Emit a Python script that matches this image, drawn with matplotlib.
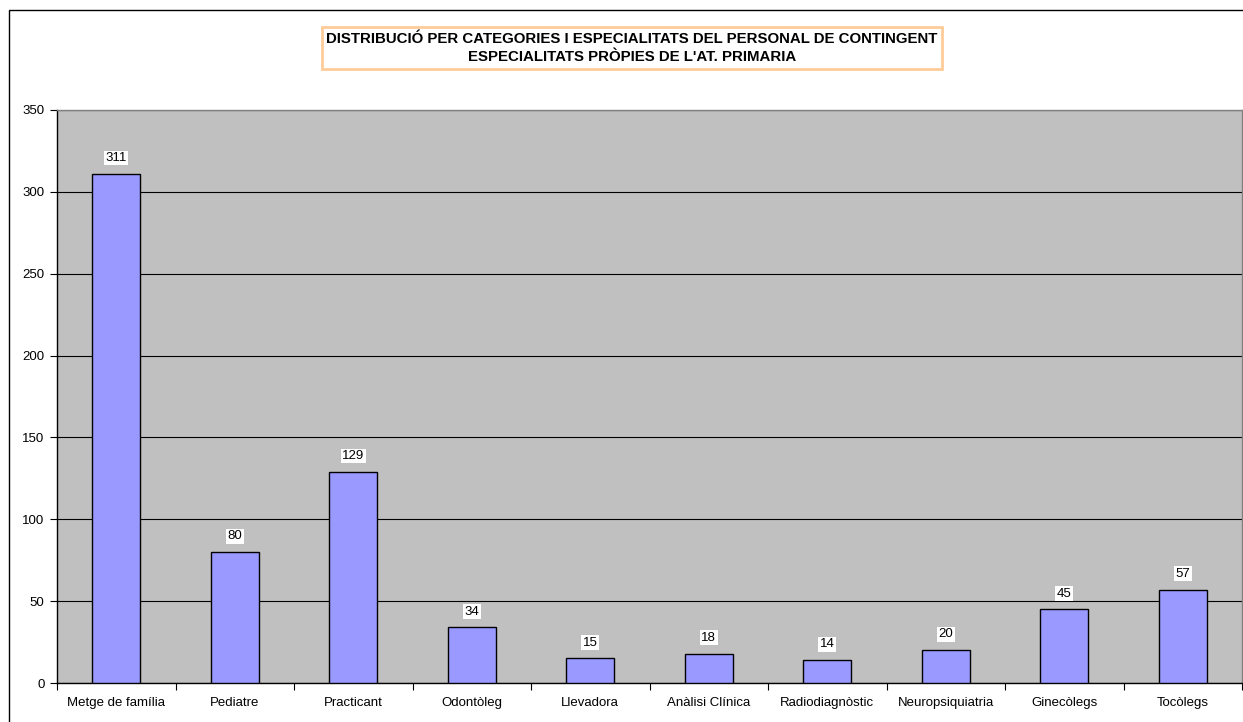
import numpy as np
import matplotlib
matplotlib.use("Agg")
import matplotlib.pyplot as plt
from matplotlib.patches import Rectangle

plt.rcParams["font.family"] = ["Liberation Sans", "DejaVu Sans"]

categories = ["Metge de família", "Pediatre", "Practicant", "Odontòleg", "Llevadora",
              "Anàlisi Clínica", "Radiodiagnòstic", "Neuropsiquiatria", "Ginecòlegs", "Tocòlegs"]
values = [311, 80, 129, 34, 15, 18, 14, 20, 45, 57]
yticks = [0, 50, 100, 150, 200, 250, 300, 350]

W, H = 1243, 722
fig = plt.figure(figsize=(W / 100, H / 100), dpi=100)
ax = fig.add_axes([57 / W, (H - 683) / H, 1185 / W, 573 / H])
ax.set_facecolor("#C0C0C0")

x = np.arange(len(categories))
ax.bar(x, values, width=0.405, color="#9999FF", edgecolor="black", lw=1.0, zorder=3)
for xi, v in zip(x, values):
    ax.text(xi, v + 6, str(v), ha="center", va="bottom", fontsize=9.5, zorder=4,
            bbox=dict(fc="white", ec="none", pad=1.0))

ax.set_xlim(-0.5, len(categories) - 0.5)
ax.set_ylim(0, 350)
ax.set_yticks(yticks)
ax.yaxis.grid(True, color="black", lw=0.8, zorder=1)
ax.tick_params(axis="y", length=5, width=0.8, labelsize=9.5, pad=4)
ax.set_xticks(x)
ax.set_xticklabels(categories, fontsize=9.5)
ax.tick_params(axis="x", length=0, pad=10)
ax.set_xticks(np.arange(len(categories) + 1) - 0.5, minor=True)
ax.tick_params(axis="x", which="minor", length=5, width=0.8)

ax.spines["left"].set_color("black")
ax.spines["bottom"].set_color("black")
ax.spines["top"].set_color("#808080")
ax.spines["right"].set_color("#808080")
for sp in ax.spines.values():
    sp.set_linewidth(1.0)

# title box
fig.text(632 / W, 1 - 48 / H,
         "DISTRIBUCIÓ PER CATEGORIES I ESPECIALITATS DEL PERSONAL DE CONTINGENT\n"
         "ESPECIALITATS PRÒPIES DE L'AT. PRIMARIA",
         ha="center", va="center", fontsize=10.8, fontweight="bold", linespacing=1.4,
         bbox=dict(fc="white", ec="#FFCC99", lw=2.0, boxstyle="square,pad=0.3"))

# outer chart frame
fig.patches.append(Rectangle((9 / W, -0.1), 1.2, 1 - 10 / H + 0.1, transform=fig.transFigure,
                             fill=False, ec="black", lw=1.0))

fig.savefig("out.png", dpi=100)
